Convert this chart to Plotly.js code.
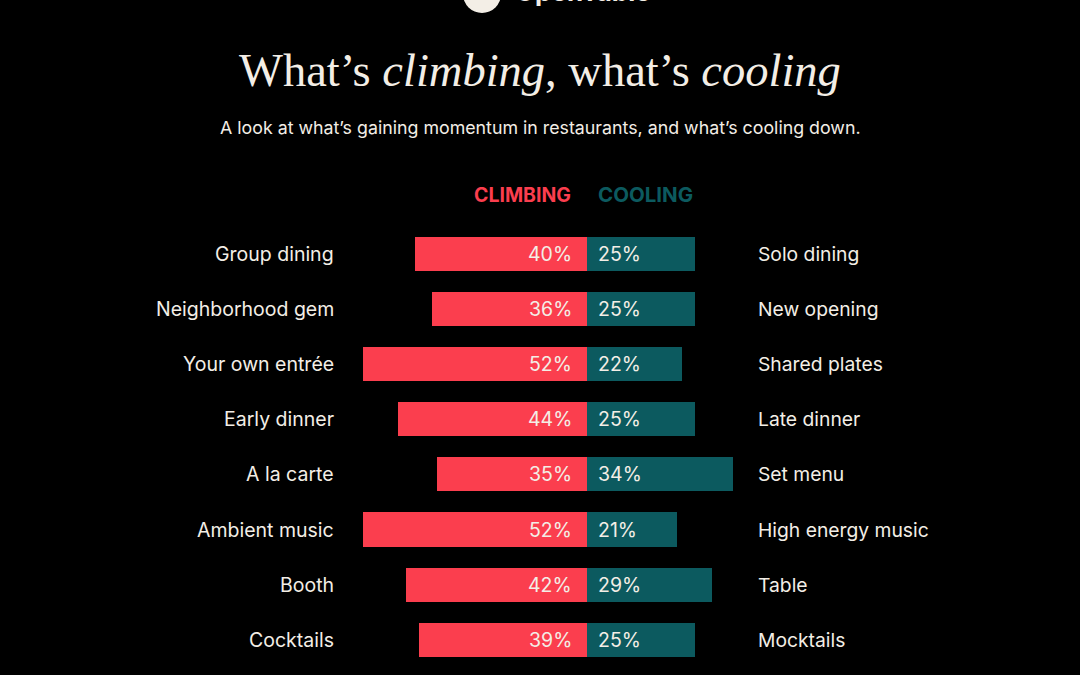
<!DOCTYPE html>
<html>
<head>
<meta charset="utf-8">
<script src="https://cdn.plot.ly/plotly-3.0.1.min.js"></script>
<style>html,body{margin:0;padding:0;background:#000;}#chart{width:1080px;height:675px;}</style>
</head>
<body>
<div id="chart"></div>
<script>
const climbingLabels = ["Group dining","Neighborhood gem","Your own entrée","Early dinner","A la carte","Ambient music","Booth","Cocktails"];
const climbingValues = [40,36,52,44,35,52,42,39];
const coolingLabels = ["Solo dining","New opening","Shared plates","Late dinner","Set menu","High energy music","Table","Mocktails"];
const coolingValues = [25,25,22,25,34,21,29,25];

const RED = "#fb3e4e";
const TEAL = "#0c5a5f";
const CREAM = "#f3eee6";
const W = 1080, H = 675;
const center = 587, pxPer = 4.3;
const rowTop = 254, rowGap = 55.1;
const sans = "Inter, 'Noto Sans', sans-serif";

const traces = [
  {type:"bar", orientation:"h", y: climbingLabels, x: climbingValues.map(v=>-v),
   marker:{color:RED, line:{width:0}}, width:0.62, hoverinfo:"skip"},
  {type:"bar", orientation:"h", y: climbingLabels, x: coolingValues,
   marker:{color:TEAL, line:{width:0}}, width:0.62, hoverinfo:"skip"}
];

const ann = [];
climbingLabels.forEach((lab,i)=>{
  ann.push({x:0, y:lab, xref:"x", yref:"y", text: climbingValues[i]+"%", showarrow:false,
    xanchor:"right", yanchor:"middle", xshift:-13, font:{family:sans, size:19.5, color:CREAM}});
  ann.push({x:0, y:lab, xref:"x", yref:"y", text: coolingValues[i]+"%", showarrow:false,
    xanchor:"left", yanchor:"middle", xshift:9, font:{family:sans, size:19.5, color:CREAM}});
  ann.push({x:336/W, y:lab, xref:"paper", yref:"y", text: lab, showarrow:false,
    xanchor:"right", yanchor:"middle", font:{family:sans, size:19.5, color:CREAM}});
  ann.push({x:756/W, y:lab, xref:"paper", yref:"y", text: coolingLabels[i], showarrow:false,
    xanchor:"left", yanchor:"middle", font:{family:sans, size:19.3, color:CREAM}});
});
// headers
ann.push({x:0, y:1-195/H, xref:"x", yref:"paper", text:"<b>CLIMBING</b>", showarrow:false,
  xanchor:"right", yanchor:"middle", xshift:-14, font:{family:sans, size:19.5, color:RED}});
ann.push({x:0, y:1-195/H, xref:"x", yref:"paper", text:"<b>COOLING</b>", showarrow:false,
  xanchor:"left", yanchor:"middle", xshift:9, font:{family:sans, size:20.5, color:TEAL}});
// title & subtitle
ann.push({x:0.5, y:1-70/H, xref:"paper", yref:"paper", showarrow:false, yanchor:"middle",
  text:"What’s <i>climbing</i>, what’s <i>cooling</i>",
  font:{family:"'Liberation Serif', 'DejaVu Serif', serif", size:46.5, color:CREAM}});
ann.push({x:0.5, y:1-128/H, xref:"paper", yref:"paper", showarrow:false, yanchor:"middle",
  text:"A look at what’s gaining momentum in restaurants, and what’s cooling down.",
  font:{family:sans, size:17.8, color:CREAM}});
// logo text (cut off at top, as in the reference)
ann.push({x:513/W, y:1-9/H, xref:"paper", yref:"paper", showarrow:false, xanchor:"left", yanchor:"bottom",
  text:"<b>OpenTable</b>", font:{family:sans, size:26, color:CREAM}});

const layout = {
  width:W, height:H, margin:{l:0,r:0,t:0,b:0},
  paper_bgcolor:"#000", plot_bgcolor:"#000",
  barmode:"relative", bargap:0, showlegend:false,
  xaxis:{range:[-center/pxPer, (W-center)/pxPer], visible:false, fixedrange:true},
  yaxis:{type:"category", categoryorder:"array", categoryarray:climbingLabels,
    range:[(H-rowTop)/rowGap, -rowTop/rowGap], autorange:false, visible:false, fixedrange:true},
  annotations: ann,
  shapes:[{type:"circle", xref:"paper", yref:"paper", x0:463/W, x1:501/W, y0:1-13/H, y1:1+25/H,
    fillcolor:CREAM, line:{width:0}}]
};
Plotly.newPlot("chart", traces, layout, {displayModeBar:false, staticPlot:true});
</script>
</body>
</html>
